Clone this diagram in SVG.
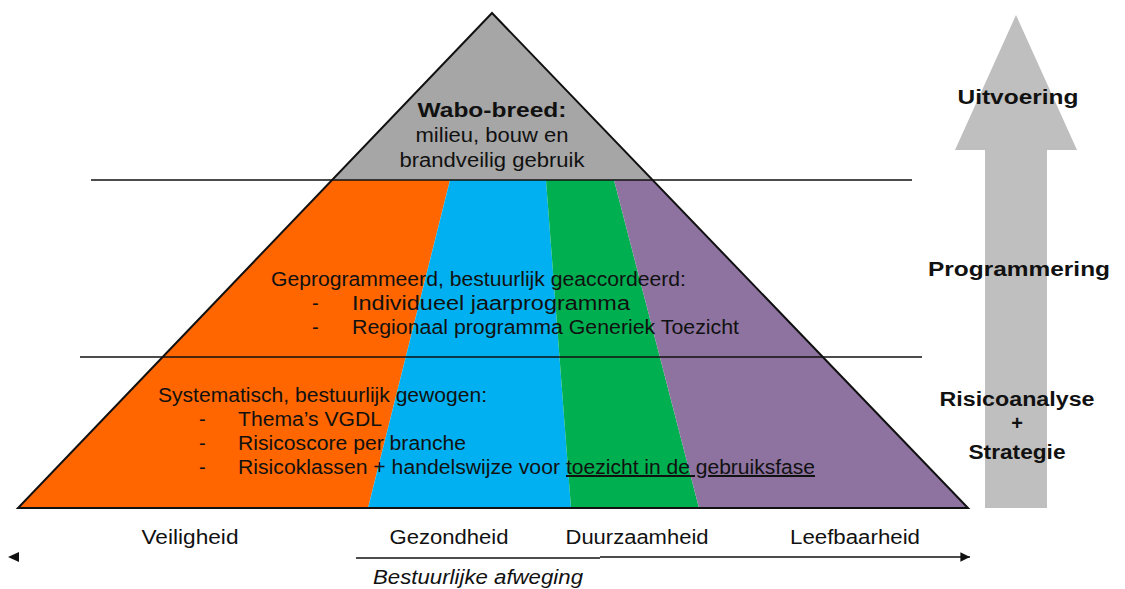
<svg xmlns="http://www.w3.org/2000/svg" width="1125" height="589" viewBox="0 0 1125 589">
<style>
.t{font-family:"Liberation Sans",Arial,sans-serif;font-size:20px;fill:#111}
.b{font-weight:bold}
.c{text-anchor:middle}
.ln{stroke:#111;stroke-width:1.6;fill:none}
</style>
<defs>
<clipPath id="pyr"><polygon points="492,13 968,508 18,508"/></clipPath>
<marker id="ah" viewBox="0 0 10 10" refX="10" refY="5" markerWidth="6" markerHeight="6" orient="auto"><path d="M0,0 L10,5 L0,10 z" fill="#111"/></marker>
</defs>
<rect width="1125" height="589" fill="#fff"/>
<g id="pyramid">
<g clip-path="url(#pyr)">
<polygon points="0,0 1000,0 1000,180 0,180" fill="#a6a6a6"/>
<polygon points="0,180 450,180 368,508 0,508" fill="#ff6600"/>
<polygon points="450,180 546,180 571,508 368,508" fill="#00b0f0"/>
<polygon points="546,180 614,180 699,508 571,508" fill="#00b050"/>
<polygon points="614,180 1000,180 1000,508 699,508" fill="#8e73a0"/>
</g>
<polygon points="492,13 968,508 18,508" fill="none" stroke="#111" stroke-width="2"/>
</g>
<g id="dividers">
<line class="ln" x1="91" y1="180" x2="912" y2="180"/>
<line class="ln" x1="80" y1="357" x2="922" y2="357"/>
</g>
<g id="top-text">
<text class="t b c" x="492" y="117" font-size="21" textLength="149" lengthAdjust="spacingAndGlyphs">Wabo-breed:</text>
<text class="t c" x="492" y="142" textLength="153" lengthAdjust="spacingAndGlyphs">milieu, bouw en</text>
<text class="t c" x="492" y="167" textLength="185" lengthAdjust="spacingAndGlyphs">brandveilig gebruik</text>
</g>
<g id="mid-text">
<text class="t" x="271" y="286" textLength="415" lengthAdjust="spacingAndGlyphs">Geprogrammeerd, bestuurlijk geaccordeerd:</text>
<text class="t" x="312" y="310">-</text>
<text class="t" x="352" y="310" textLength="278" lengthAdjust="spacingAndGlyphs">Individueel jaarprogramma</text>
<text class="t" x="312" y="334">-</text>
<text class="t" x="352" y="334" textLength="387" lengthAdjust="spacingAndGlyphs">Regionaal programma Generiek Toezicht</text>
</g>
<g id="bottom-text">
<text class="t" x="158" y="402" textLength="329" lengthAdjust="spacingAndGlyphs">Systematisch, bestuurlijk gewogen:</text>
<text class="t" x="199" y="426">-</text>
<text class="t" x="238" y="426" textLength="144" lengthAdjust="spacingAndGlyphs">Thema’s VGDL</text>
<text class="t" x="199" y="450">-</text>
<text class="t" x="238" y="450" textLength="228" lengthAdjust="spacingAndGlyphs">Risicoscore per branche</text>
<text class="t" x="199" y="474">-</text>
<text class="t" x="238" y="474" textLength="322" lengthAdjust="spacingAndGlyphs">Risicoklassen + handelswijze voor</text>
<text class="t" x="566" y="474" textLength="249" lengthAdjust="spacingAndGlyphs" text-decoration="underline">toezicht in de gebruiksfase</text>
</g>
<g id="themes">
<text class="t c" x="190" y="544" textLength="97" lengthAdjust="spacingAndGlyphs">Veiligheid</text>
<text class="t c" x="449" y="544" textLength="119" lengthAdjust="spacingAndGlyphs">Gezondheid</text>
<text class="t c" x="637" y="544" textLength="143" lengthAdjust="spacingAndGlyphs">Duurzaamheid</text>
<text class="t c" x="855" y="544" textLength="130" lengthAdjust="spacingAndGlyphs">Leefbaarheid</text>
<text class="t c" x="478" y="584" font-style="italic" textLength="210" lengthAdjust="spacingAndGlyphs">Bestuurlijke afweging</text>
</g>
<g id="connectors">
<polygon points="8,557 19,552 19,562" fill="#111"/>
<line class="ln" x1="356" y1="558" x2="600" y2="558" stroke-width="1.4"/>
<line class="ln" x1="600" y1="557" x2="970" y2="557" stroke-width="1.4" marker-end="url(#ah)"/>
</g>
<g id="side-arrow">
<polygon points="1016,15 1077,150 1047,150 1047,508 985,508 985,150 955,150" fill="#bfbfbf"/>
<text class="t b c" x="1018" y="104" font-size="21" textLength="121" lengthAdjust="spacingAndGlyphs">Uitvoering</text>
<text class="t b c" x="1019" y="276" font-size="21" textLength="182" lengthAdjust="spacingAndGlyphs">Programmering</text>
<text class="t b c" x="1017" y="406" font-size="20" textLength="155" lengthAdjust="spacingAndGlyphs">Risicoanalyse</text>
<text class="t b c" x="1017" y="430" font-size="20">+</text>
<text class="t b c" x="1017" y="459" font-size="20" textLength="97" lengthAdjust="spacingAndGlyphs">Strategie</text>
</g>
</svg>
